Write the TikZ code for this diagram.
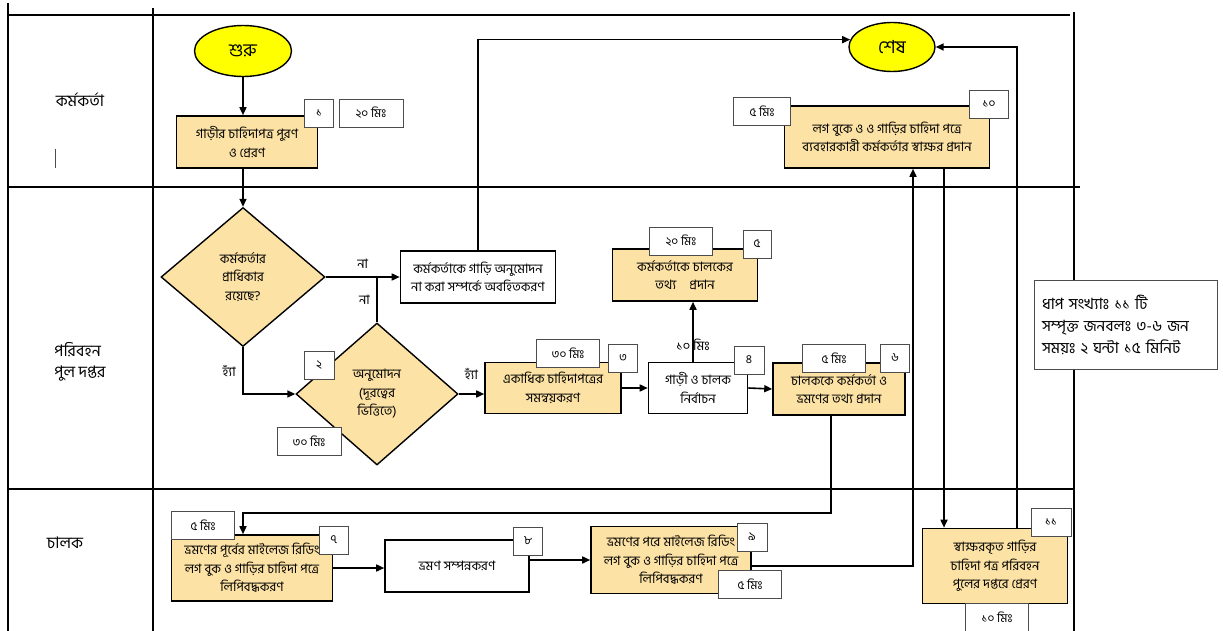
\documentclass[tikz,border=0pt]{standalone}
\usepackage{fontspec}
\newfontfamily\bnfont[Script=Bengali]{Hind Siliguri}
\usetikzlibrary{arrows.meta,shapes.geometric}
\definecolor{boxfill}{RGB}{252,226,164}
\definecolor{endfill}{RGB}{255,255,0}

\begin{document}
\begin{tikzpicture}[x=1pt,y=-1pt]
	\tikzstyle{every node}=[font=\bnfont\fontsize{13}{18.5}\selectfont]
	\tikzstyle{lane}=[line width=1.6pt]
	\tikzstyle{lanename}=[font=\bnfont\fontsize{16}{21}\selectfont,align=left]
	\tikzstyle{terminal}=[ellipse,draw,line width=1.4pt,fill=endfill,inner sep=0pt,font=\bnfont\fontsize{18}{20}\selectfont]
	\tikzstyle{task}=[draw,line width=1.6pt,fill=boxfill,align=center,inner sep=0pt]
	\tikzstyle{plain}=[task,fill=white]
	\tikzstyle{decision}=[diamond,draw,line width=1.4pt,fill=boxfill,align=center,inner sep=0pt]
	\tikzstyle{tag}=[draw=black!70,line width=0.8pt,fill=white,inner sep=0pt,minimum height=28pt,font=\bnfont\fontsize{12}{14}\selectfont]
	\tikzstyle{flow}=[line width=1.6pt,-{Triangle[length=8pt,width=7pt]}]
	\tikzstyle{link}=[line width=1.6pt]

	\useasboundingbox (0,0) rectangle (1223,631);

	%% Swimlanes
	\draw[lane] (8,3) -- (8,631);
	\draw[lane] (153,8) -- (153,631);
	\draw[lane] (8,15) -- (1070,15);
	\draw[lane] (8,187) -- (1080,187);
	\draw[lane] (8,489) -- (1075,489);
	\draw[lane] (1074,12) -- (1074,631);

	\node[lanename] (officer) at (80,100) {কর্মকর্তা};
	\draw[line width=0.6pt,black!70] (55,149) -- (55,168);
	\node[lanename] (pool) at (80,362) {পরিবহন\\পুল দপ্তর};
	\node[lanename] (driver) at (65,543) {চালক};

	%% Start / end
	\node[terminal,minimum width=97pt,minimum height=51pt] (start) at (243,51) {শুরু};
	\node[terminal,minimum width=86pt,minimum height=49pt] (stop) at (892,47) {শেষ};

	%% Steps
	\node[task,minimum width=141pt,minimum height=52pt] (s1) at (247,142) {গাড়ীর চাহিদাপত্র পুরণ\\ও প্রেরণ};
	\node[decision,minimum width=164pt,minimum height=139pt] (q1) at (243,277) {কর্মকর্তার\\প্রাধিকার\\রয়েছে?};
	\node[plain,minimum width=155pt,minimum height=52pt] (deny) at (478,277) {কর্মকর্তাকে গাড়ি অনুমোদন\\না করা সম্পর্কে অবহিতকরণ};
	\node[decision,minimum width=162pt,minimum height=142pt] (q2) at (377,394) {অনুমোদন\\(দূরত্বের\\ভিত্তিতে)};
	\node[task,minimum width=136pt,minimum height=51pt] (s3) at (553,388) {একাধিক চাহিদাপত্রের\\সমন্বয়করণ};
	\node[plain,minimum width=99pt,minimum height=51pt] (s4) at (698,388) {গাড়ী ও চালক\\নির্বাচন};
	\node[task,minimum width=145pt,minimum height=52pt] (s5) at (685,275) {কর্মকর্তাকে চালকের\\তথ্য\quad প্রদান};
	\node[task,minimum width=132pt,minimum height=52pt] (s6) at (839,389) {চালককে কর্মকর্তা ও\\ভ্রমণের তথ্য প্রদান};
	\node[task,minimum width=161pt,minimum height=66pt] (s7) at (252,568) {ভ্রমণের পূর্বের মাইলেজ রিডিং\\লগ বুক ও গাড়ির চাহিদা পত্রে\\লিপিবদ্ধকরণ};
	\node[plain,minimum width=144pt,minimum height=52pt] (s8) at (457,566) {ভ্রমণ সম্পন্নকরণ};
	\node[task,minimum width=160pt,minimum height=67pt] (s9) at (671,560) {ভ্রমণের পরে মাইলেজ রিডিং\\লগ বুক ও গাড়ির চাহিদা পত্রে\\লিপিবদ্ধকরণ};
	\node[task,minimum width=205pt,minimum height=62pt] (s10) at (887,137) {লগ বুকে ও ও গাড়ির চাহিদা পত্রে\\ব্যবহারকারী কর্মকর্তার স্বাক্ষর প্রদান};
	\node[task,minimum width=145pt,minimum height=75pt] (s11) at (995,566) {স্বাক্ষরকৃত গাড়ির\\চাহিদা পত্র পরিবহন\\পুলের দপ্তরে প্রেরণ};

	%% Summary
	\node[draw=black!70,line width=1pt,fill=white,align=left,inner sep=0pt,text width=168pt,minimum width=183pt,minimum height=89pt,
		font=\bnfont\fontsize{15.5}{22}\selectfont] (info) at (1126,325) {ধাপ সংখ্যাঃ ১১ টি\\সম্পৃক্ত জনবলঃ ৩-৬ জন\\সময়ঃ ২ ঘন্টা ১৫ মিনিট};

	%% Step numbers and times
	\node[tag,minimum width=29pt] (n1) at (319,113) {১};
	\node[tag,minimum width=64pt] (m1) at (371,113) {২০ মিঃ};
	\node[tag,minimum width=30pt] (n2) at (319,365) {২};
	\node[tag,minimum width=64pt] (m2) at (309,441) {৩০ মিঃ};
	\node[tag,minimum width=63pt] (m3) at (568,353) {৩০ মিঃ};
	\node[tag,minimum width=29pt] (n3) at (623,358) {৩};
	\node[tag,minimum width=30pt] (n4) at (749,360) {৪};
	\node[tag,minimum width=63pt] (m5) at (681,241) {২০ মিঃ};
	\node[tag,minimum width=28pt] (n5) at (757,244) {৫};
	\node[tag,minimum width=63pt] (m6) at (834,358) {৫ মিঃ};
	\node[tag,minimum width=29pt] (n6) at (895,358) {৬};
	\node[tag,minimum width=63pt] (m7) at (203,525) {৫ মিঃ};
	\node[tag,minimum width=29pt] (n7) at (334,540) {৭};
	\node[tag,minimum width=29pt] (n8) at (528,541) {৮};
	\node[tag,minimum width=30pt] (n9) at (752,537) {৯};
	\node[tag,minimum width=63pt] (m9) at (750,584) {৫ মিঃ};
	\node[tag,minimum width=57pt] (m10) at (762,111) {৫ মিঃ};
	\node[tag,minimum width=39pt] (n10) at (989,104) {১০};
	\node[tag,minimum width=40pt] (n11) at (1051,522) {১১};
	\node[tag,minimum width=63pt] (m11) at (997,617) {১০ মিঃ};

	%% Connectors
	\draw[flow] (start.south) -- (start.south |- s1.north);
	\draw[flow] (s1.south -| q1.north) -- (q1.north);
	\draw[flow] (q1.east) -- (deny.west) node[midway,above=4pt] {না};
	\draw[link] (q2.north) -- (q2.north |- q1.east) node[midway,left=3pt] {না};
	\draw[flow] (q1.south) |- (q2.west) node[pos=.25,left=3pt] {হ্যাঁ};
	\draw[flow] (q2.east) -- (s3.west |- q2.east) node[midway,above=10pt] {হ্যাঁ};
	\draw[flow] (deny.north) |- (stop.170);
	\draw[flow] (s3.east) -- (s4.west);
	\draw[flow] ([xshift=-5pt]s4.north) -- ([xshift=-5pt]s4.north |- s5.south) node[pos=.28] {১০ মিঃ};
	\draw[flow] (s4.east) -- (s6.west);
	\coordinate (turn6) at (831,513);
	\draw[flow] ([xshift=-8pt]s6.south) -- (turn6) -| ([xshift=-9pt]s7.north);
	\draw[flow] (s7.east) -- (s7.east -| s8.west);
	\draw[flow] (s9.west -| s8.east) -- (s9.west);
	\draw[flow] ([yshift=-6pt]s9.east) -| ([xshift=26pt]s10.south);
	\draw[flow] ([xshift=57pt]s10.south) -- ([xshift=57pt]s10.south |- s11.north);
	\draw[flow] ([xshift=22pt]s11.north) |- (stop.east);
\end{tikzpicture}
\end{document}
